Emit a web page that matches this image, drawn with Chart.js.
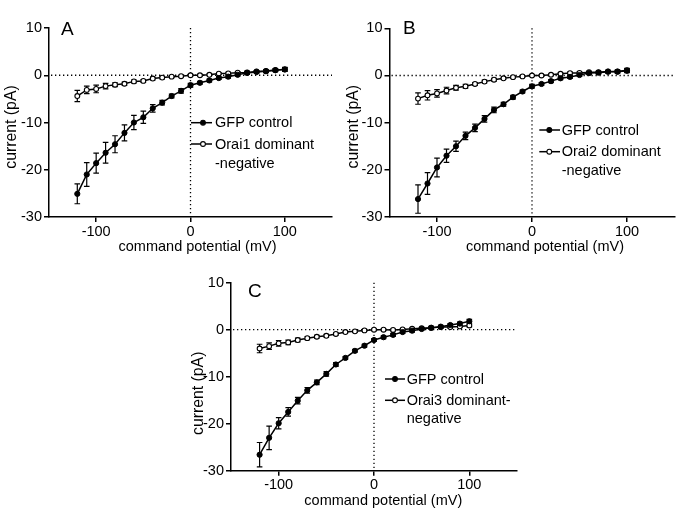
<!DOCTYPE html>
<html>
<head>
<meta charset="utf-8">
<script src="https://cdn.jsdelivr.net/npm/chart.js@4"></script>
<style>
  html, body { margin: 0; padding: 0; background: #fff; }
  body { width: 680px; height: 518px; position: relative; overflow: hidden; }
  canvas { position: absolute; }
</style>
</head>
<body>
<canvas id="cA" width="340" height="260" style="left:0px;top:0px;width:340px;height:260px"></canvas>
<canvas id="cB" width="340" height="260" style="left:340px;top:0px;width:340px;height:260px"></canvas>
<canvas id="cC" width="360" height="258" style="left:170px;top:260px;width:360px;height:258px"></canvas>
<script>
// ---------- data ----------
const voltages = [-120,-110,-100,-90,-80,-70,-60,-50,-40,-30,-20,-10,0,10,20,30,40,50,60,70,80,90,100];
const xTickValues = [-100, 0, 100];
const yTickValues = [-30, -20, -10, 0, 10];

const gfpA    = [-25.1,-21.0,-18.6,-16.4,-14.6,-12.2,-10.0,-8.9,-7.0,-5.8,-4.4,-3.3,-2.1,-1.6,-1.1,-0.6,-0.3,0.1,0.5,0.7,0.85,1.05,1.25];
const gfpAErr = [2.1,2.5,2.1,2.2,1.8,1.7,1.5,1.3,0.8,0.5,0.4,0.5,0.4,0.3,0.3,0.3,0.3,0.3,0.3,0.3,0.3,0.3,0.4];
const orai1    = [-4.4,-3.1,-2.9,-2.3,-2.0,-1.8,-1.3,-1.2,-0.7,-0.5,-0.3,-0.2,0,0,0.1,0.35,0.4,0.55,0.6,0.8,0.9,1.1,1.2];
const orai1Err = [1.2,0.8,0.8,0.6,0.4,0.35,0.3,0.3,0.3,0.25,0.2,0.2,0.2,0.2,0.2,0.2,0.2,0.2,0.2,0.2,0.25,0.3,0.4];

const gfpB    = [-26.2,-22.9,-19.5,-17.0,-15.0,-12.8,-11.1,-9.2,-7.3,-6.1,-4.6,-3.4,-2.3,-1.8,-1.2,-0.6,-0.3,0.1,0.5,0.6,0.8,0.8,1.0];
const gfpBErr = [3.0,2.3,2.0,1.4,1.1,0.8,0.8,0.7,0.6,0.4,0.4,0.3,0.4,0.3,0.3,0.3,0.3,0.3,0.3,0.3,0.3,0.3,0.4];
const orai2    = [-4.9,-4.2,-3.8,-3.2,-2.6,-2.3,-1.8,-1.3,-0.9,-0.6,-0.35,-0.2,0,0,0.15,0.35,0.5,0.55,0.7,0.7,0.85,0.85,1.1];
const orai2Err = [1.2,1.0,0.8,0.7,0.5,0.4,0.3,0.3,0.3,0.25,0.2,0.2,0.2,0.2,0.2,0.2,0.2,0.2,0.2,0.2,0.2,0.3,0.4];

const gfpC    = [-26.6,-23.0,-19.9,-17.5,-15.1,-12.9,-11.2,-9.4,-7.4,-6.0,-4.5,-3.4,-2.2,-1.6,-1.1,-0.5,-0.2,0.15,0.4,0.65,1.0,1.3,1.8];
const gfpCErr = [2.6,2.5,1.2,0.9,0.7,0.6,0.5,0.5,0.4,0.3,0.3,0.3,0.3,0.3,0.3,0.3,0.3,0.3,0.3,0.3,0.3,0.3,0.4];
const orai3    = [-4.0,-3.5,-2.9,-2.7,-2.2,-1.8,-1.5,-1.3,-0.9,-0.5,-0.35,-0.15,0,0,-0.05,0.05,0.2,0.3,0.4,0.55,0.55,0.7,0.9];
const orai3Err = [0.9,0.7,0.6,0.5,0.4,0.3,0.3,0.3,0.25,0.2,0.2,0.2,0.2,0.2,0.2,0.2,0.2,0.2,0.2,0.2,0.2,0.2,0.3];

const xTitle = 'command potential (mV)';
const yTitle = 'current (pA)';
const controlLabel = ['GFP control'];
const labelA = ['Orai1 dominant', '-negative'];
const labelB = ['Orai2 dominant', '-negative'];
const labelC = ['Orai3 dominant-', 'negative'];

// ---------- drawing ----------
const FONT = '"Liberation Sans", Arial, Helvetica, sans-serif';
const FS = 14.5;

const panelPlugin = {
  id: 'panel',
  beforeDatasetsDraw(chart, args, o) {
    const ctx = chart.ctx, ca = chart.chartArea;
    const xs = chart.scales.x, ys = chart.scales.y;
    ctx.save();
    // dotted zero lines
    ctx.strokeStyle = '#000';
    ctx.lineWidth = 1.3;
    ctx.setLineDash([1.3, 2.7]);
    const y0 = ys.getPixelForValue(0), x0 = xs.getPixelForValue(0);
    ctx.beginPath();
    ctx.moveTo(ca.left + 2, y0); ctx.lineTo(ca.right, y0);
    ctx.moveTo(x0, ca.top); ctx.lineTo(x0, ca.bottom);
    ctx.stroke();
    ctx.setLineDash([]);
    // error bars
    ctx.lineWidth = 1.2;
    chart.data.datasets.forEach(ds => {
      const err = ds.errors;
      ds.data.forEach((p, i) => {
        const e = err[i];
        const px = xs.getPixelForValue(p.x);
        const pt = ys.getPixelForValue(p.y + e);
        const pb = ys.getPixelForValue(p.y - e);
        ctx.beginPath();
        ctx.moveTo(px, pt); ctx.lineTo(px, pb);
        ctx.moveTo(px - 2.8, pt); ctx.lineTo(px + 2.8, pt);
        ctx.moveTo(px - 2.8, pb); ctx.lineTo(px + 2.8, pb);
        ctx.stroke();
      });
    });
    ctx.restore();
  },
  afterDraw(chart, args, o) {
    const ctx = chart.ctx;
    ctx.save();
    ctx.fillStyle = '#000';
    ctx.strokeStyle = '#000';
    // panel letter
    ctx.font = '19px ' + FONT;
    ctx.textAlign = 'left';
    ctx.textBaseline = 'middle';
    ctx.fillText(o.letter, o.letterX, o.letterY);
    // axis titles
    ctx.font = FS + 'px ' + FONT;
    ctx.textAlign = 'center';
    ctx.fillText(xTitle, o.xTitleX, o.xTitleY);
    ctx.save();
    ctx.translate(o.yTitleX, o.yTitleY);
    ctx.rotate(-Math.PI / 2);
    ctx.font = '15.8px ' + FONT;
    ctx.fillText(yTitle, 0, 0);
    ctx.restore();
    // legend
    ctx.textAlign = 'left';
    ctx.font = FS + 'px ' + FONT;
    const L = o.legend;
    const rows = [
      { fill: '#000', y: L.rows[0], text: chart.data.datasets[0].label[0] },
      { fill: '#fff', y: L.rows[1], text: chart.data.datasets[1].label[0] }
    ];
    rows.forEach(r => {
      ctx.lineWidth = 1.5;
      ctx.beginPath();
      ctx.moveTo(L.x1, r.y); ctx.lineTo(L.x2, r.y);
      ctx.stroke();
      ctx.beginPath();
      ctx.arc(L.mx, r.y, 2.4, 0, Math.PI * 2);
      ctx.fillStyle = r.fill;
      ctx.fill();
      ctx.lineWidth = 1.1;
      ctx.stroke();
      ctx.fillStyle = '#000';
      ctx.fillText(r.text, L.tx, r.y + 0.5);
    });
    ctx.fillText(chart.data.datasets[1].label[1], L.tx, L.rows[2] + 0.5);
    ctx.restore();
  }
};

function makeChart(id, w, h, area, gfp, gfpErr, mut, mutErr, mutLabel, opts) {
  const toPts = arr => voltages.map((v, i) => ({ x: v, y: arr[i] }));
  return new Chart(document.getElementById(id), {
    type: 'scatter',
    data: {
      datasets: [
        { label: controlLabel, data: toPts(gfp), errors: gfpErr, showLine: true,
          borderColor: '#000', borderWidth: 1.5, backgroundColor: '#000',
          pointRadius: 2.6, pointBorderWidth: 1, pointBorderColor: '#000', pointBackgroundColor: '#000', tension: 0 },
        { label: mutLabel, data: toPts(mut), errors: mutErr, showLine: true,
          borderColor: '#000', borderWidth: 1.5, backgroundColor: '#fff',
          pointRadius: 2.4, pointBorderWidth: 1.1, pointBorderColor: '#000', pointBackgroundColor: '#fff', tension: 0 }
      ]
    },
    options: {
      responsive: false,
      animation: false,
      devicePixelRatio: 1,
      layout: { padding: { left: 0, top: area.top, right: w - area.right, bottom: 0 } },
      plugins: {
        legend: { display: false },
        tooltip: { enabled: false },
        panel: opts
      },
      scales: {
        x: {
          type: 'linear', min: -150, max: 150,
          afterBuildTicks: s => { s.ticks = xTickValues.map(v => ({ value: v })); },
          afterFit: s => { s.height = h - area.bottom; },
          ticks: { color: '#000', font: { family: FONT, size: FS }, padding: 1, maxRotation: 0 },
          grid: { drawOnChartArea: false, drawTicks: true, tickLength: 5, color: '#000', lineWidth: 1.5 },
          border: { display: true, color: '#000', width: 1.5 },
          title: { display: false }
        },
        y: {
          type: 'linear', min: -30, max: 10,
          afterBuildTicks: s => { s.ticks = yTickValues.map(v => ({ value: v })); },
          afterFit: s => { s.width = area.left; },
          ticks: { color: '#000', font: { family: FONT, size: FS }, padding: 2 },
          grid: { drawOnChartArea: false, drawTicks: true, tickLength: 5, color: '#000', lineWidth: 1.5 },
          border: { display: true, color: '#000', width: 1.5 },
          title: { display: false }
        }
      }
    },
    plugins: [panelPlugin]
  });
}

makeChart('cA', 340, 260, { left: 49, top: 28, right: 332, bottom: 217 },
  gfpA, gfpAErr, orai1, orai1Err, labelA,
  { letter: 'A', letterX: 61, letterY: 30, xTitleX: 197.5, xTitleY: 247, yTitleX: 12, yTitleY: 127,
    legend: { x1: 191, x2: 212, mx: 203, tx: 215, rows: [122.7, 144, 163.3] } });

makeChart('cB', 340, 260, { left: 49.5, top: 28.3, right: 334.5, bottom: 217 },
  gfpB, gfpBErr, orai2, orai2Err, labelB,
  { letter: 'B', letterX: 63, letterY: 28.5, xTitleX: 205, xTitleY: 246.7, yTitleX: 13.3, yTitleY: 126.7,
    legend: { x1: 199.3, x2: 220, mx: 209.3, tx: 221.7, rows: [130, 151.7, 170.7] } });

makeChart('cC', 360, 258, { left: 61, top: 22.7, right: 347, bottom: 210.7 },
  gfpC, gfpCErr, orai3, orai3Err, labelC,
  { letter: 'C', letterX: 78, letterY: 31.7, xTitleX: 213.3, xTitleY: 240.7, yTitleX: 28.3, yTitleY: 133.3,
    legend: { x1: 215, x2: 235, mx: 225, tx: 236.7, rows: [119, 140.3, 158.3] } });
</script>
</body>
</html>
